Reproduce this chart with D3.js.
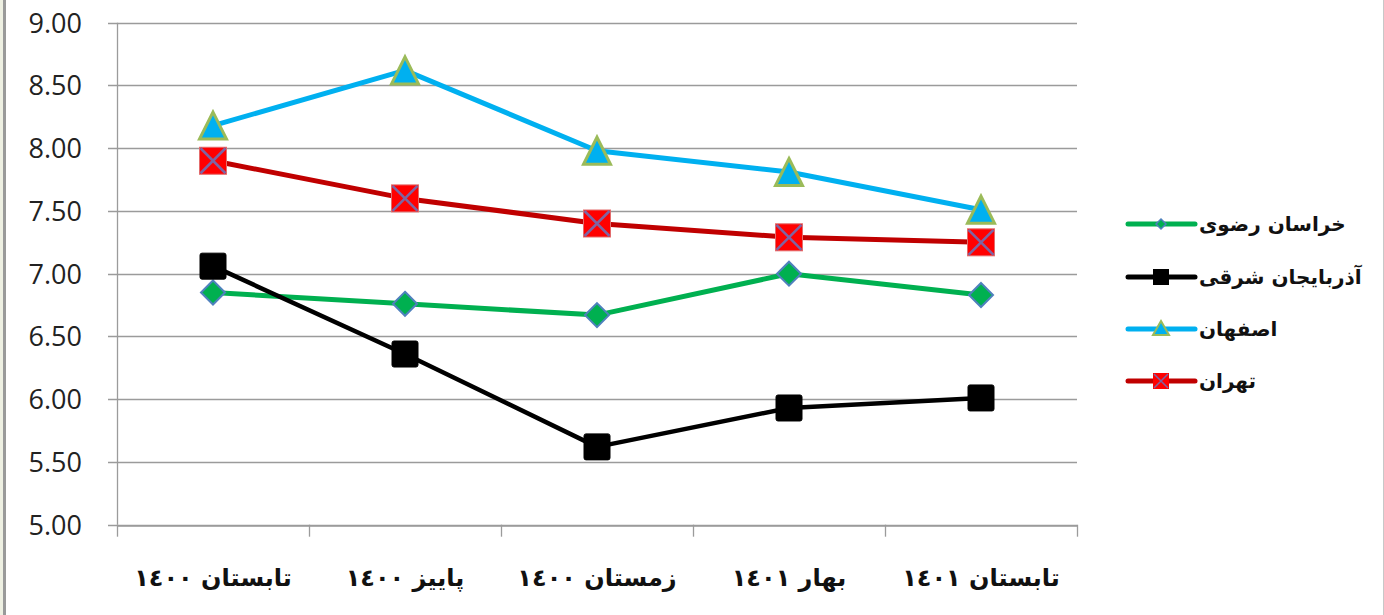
<!DOCTYPE html>
<html><head><meta charset="utf-8">
<script src="https://cdn.jsdelivr.net/npm/d3@7/dist/d3.min.js"></script>
<style>
html,body{margin:0;padding:0;background:#fff;}
svg{display:block;}
</style></head>
<body>
<svg id="c" width="1384" height="615"></svg>
<script>
const categories = ["تابستان ١٤٠٠","پاییز ١٤٠٠","زمستان ١٤٠٠","بهار ١٤٠١","تابستان ١٤٠١"];
const seriesNames = ["خراسان رضوی","آذربایجان شرقی","اصفهان","تهران"];
const khorasan = [6.85, 6.76, 6.67, 7.00, 6.83];
const azarbaijan = [7.06, 6.36, 5.62, 5.93, 6.01];
const isfahan = [8.18, 8.62, 7.98, 7.81, 7.51];
const tehran = [7.90, 7.60, 7.40, 7.29, 7.25];
const yTicks = [5.00, 5.50, 6.00, 6.50, 7.00, 7.50, 8.00, 8.50, 9.00];

const series = [
  {name: seriesNames[0], values: khorasan, color: "#00B050", marker: "diamond", width: 5},
  {name: seriesNames[1], values: azarbaijan, color: "#000000", marker: "square", width: 4.5},
  {name: seriesNames[2], values: isfahan, color: "#00B0F0", marker: "triangle", width: 5},
  {name: seriesNames[3], values: tehran, color: "#C00000", marker: "xsquare", width: 5}
];

const svg = d3.select("#c");
// outer frame
svg.append("rect").attr("x",0).attr("y",0).attr("width",3).attr("height",615).attr("fill","#EEF0E2");
svg.append("rect").attr("x",3).attr("y",0).attr("width",3).attr("height",615).attr("fill","#9a9a9a");
svg.append("rect").attr("x",1383).attr("y",0).attr("width",1).attr("height",615).attr("fill","#c8c8c8");

const pLeft = 117, pRight = 1077, pTop = 22.7, pBottom = 524.7;
const x = d3.scaleBand().domain(categories).range([pLeft, pRight]);
const y = d3.scaleLinear().domain([5, 9]).range([pBottom, pTop]);

// gridlines
const grid = svg.append("g");
grid.selectAll("line").data(yTicks).join("line")
  .attr("x1", pLeft - 9).attr("x2", pRight)
  .attr("y1", d => Math.round(y(d)) + 0.5).attr("y2", d => Math.round(y(d)) + 0.5)
  .attr("stroke", "#9b9b9b").attr("stroke-width", 1.3);

// y axis
const yAxis = d3.axisLeft(y).tickValues(yTicks).tickFormat(d3.format(".2f")).tickSize(0).tickPadding(0);
const yg = svg.append("g").attr("transform", `translate(${pLeft},0)`).call(yAxis);
yg.select(".domain").remove();
yg.selectAll("text").attr("x", -35).attr("dy", "0.35em")
  .attr("font-family", "'Open Sans', sans-serif").attr("font-size", 27).attr("fill", "#222");
svg.append("line").attr("x1", pLeft + 0.5).attr("x2", pLeft + 0.5).attr("y1", pTop).attr("y2", pBottom)
  .attr("stroke", "#9b9b9b").attr("stroke-width", 1.3);

// x axis
const xAxis = d3.axisBottom(x).tickSize(0).tickPadding(0);
const xg = svg.append("g").attr("transform", `translate(0,${Math.round(pBottom)+0.5})`).call(xAxis);
xg.select(".domain").attr("stroke", "#9b9b9b").attr("stroke-width", 1.3);
xg.selectAll("text").attr("y", 60).attr("dy", 0)
  .attr("direction", "rtl")
  .attr("font-family", "'DejaVu Sans', sans-serif").attr("font-weight", "bold").attr("font-size", 24).attr("fill", "#111");
const bounds = categories.map(c => x(c)).concat([pRight]);
svg.append("g").selectAll("line").data(bounds).join("line")
  .attr("x1", d => Math.round(d) + 0.5).attr("x2", d => Math.round(d) + 0.5)
  .attr("y1", pBottom).attr("y2", pBottom + 12)
  .attr("stroke", "#9b9b9b").attr("stroke-width", 1.3);

const cx = c => x(c) + x.bandwidth() / 2;

function drawMarker(g, type, px, py) {
  if (type === "diamond") {
    const r = 12;
    g.append("path").attr("d", `M${px},${py-r}L${px+r},${py}L${px},${py+r}L${px-r},${py}Z`)
      .attr("fill", "#00B050").attr("stroke", "#4F81BD").attr("stroke-width", 2);
  } else if (type === "square") {
    const h = 13;
    g.append("rect").attr("x", px-h).attr("y", py-h).attr("width", 2*h).attr("height", 2*h).attr("rx", 2)
      .attr("fill", "#000").attr("stroke", "#000").attr("stroke-width", 1);
  } else if (type === "triangle") {
    const h = 13.5;
    g.append("path").attr("d", `M${px},${py-h}L${px+h},${py+h}L${px-h},${py+h}Z`)
      .attr("fill", "#00B0F0").attr("stroke", "#9BBB59").attr("stroke-width", 3).attr("stroke-linejoin", "miter");
  } else if (type === "xsquare") {
    const h = 13.5;
    g.append("rect").attr("x", px-h).attr("y", py-h).attr("width", 2*h).attr("height", 2*h)
      .attr("fill", "#FF0000").attr("stroke", "#E46C6C").attr("stroke-width", 1);
    g.append("path").attr("d", `M${px-h+1},${py-h+1}L${px+h-1},${py+h-1}M${px+h-1},${py-h+1}L${px-h+1},${py+h-1}`)
      .attr("stroke", "#7F64A2").attr("stroke-width", 2.5);
  }
}

const line = d3.line().x((d, i) => cx(categories[i])).y(d => y(d));
series.forEach(s => {
  const g = svg.append("g");
  g.append("path").datum(s.values).attr("d", line)
    .attr("fill", "none").attr("stroke", s.color).attr("stroke-width", s.width).attr("stroke-linejoin", "round");
  s.values.forEach((v, i) => drawMarker(g, s.marker, cx(categories[i]), y(v)));
});

// legend
const legY = [224, 277, 329, 381];
series.forEach((s, i) => {
  const g = svg.append("g");
  g.append("line").attr("x1", 1128).attr("x2", 1195).attr("y1", legY[i]).attr("y2", legY[i])
    .attr("stroke", s.color).attr("stroke-width", 5).attr("stroke-linecap", "round");
  const mx = 1161, my = legY[i];
  if (s.marker === "diamond") {
    g.append("path").attr("d", `M${mx},${my-5}L${mx+5},${my}L${mx},${my+5}L${mx-5},${my}Z`)
      .attr("fill", "#00B050").attr("stroke", "#4F81BD").attr("stroke-width", 1.5);
  } else if (s.marker === "square") {
    g.append("rect").attr("x", mx-8).attr("y", my-8).attr("width", 16).attr("height", 16).attr("fill", "#000");
  } else if (s.marker === "triangle") {
    g.append("path").attr("d", `M${mx},${my-8}L${mx+8},${my+6}L${mx-8},${my+6}Z`)
      .attr("fill", "#00B0F0").attr("stroke", "#9BBB59").attr("stroke-width", 2);
  } else {
    g.append("rect").attr("x", mx-8).attr("y", my-8).attr("width", 16).attr("height", 16).attr("fill", "#FF0000");
    g.append("path").attr("d", `M${mx-7},${my-7}L${mx+7},${my+7}M${mx+7},${my-7}L${mx-7},${my+7}`)
      .attr("stroke", "#7F64A2").attr("stroke-width", 1.5);
  }
  g.append("text").attr("x", 1199).attr("y", legY[i] + 7)
    .attr("direction", "rtl").attr("text-anchor", "end")
    .attr("font-family", "'DejaVu Sans', sans-serif").attr("font-weight", "bold").attr("font-size", 20).attr("fill", "#111")
    .text(s.name);
});
</script>
</body></html>
